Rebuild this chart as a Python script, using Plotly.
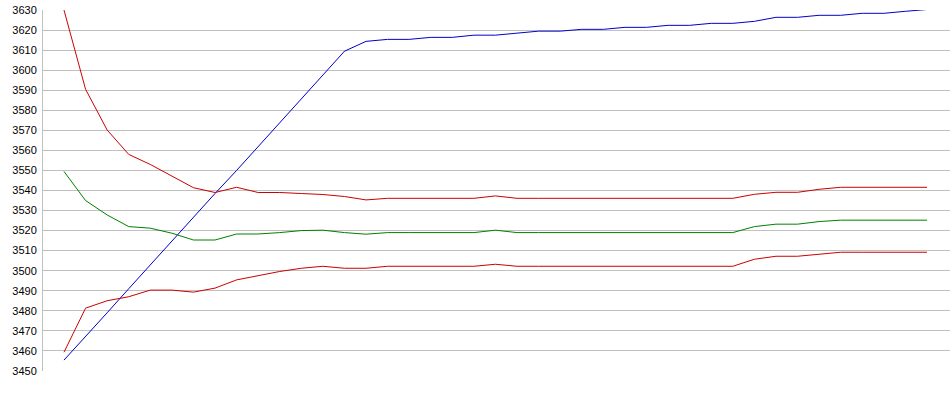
import plotly.graph_objects as go

# x positions (sample index)
x_index = list(range(41))

blue_values = [3455.4, 3467, 3479, 3491, 3503, 3515, 3527, 3538.5, 3550, 3562,
               3574, 3586, 3598, 3609.5, 3614.4, 3615.4, 3615.4, 3616.4, 3616.4, 3617.5,
               3617.5, 3618.5, 3619.5, 3619.5, 3620.4, 3620.4, 3621.4, 3621.4, 3622.4, 3622.4,
               3623.4, 3623.4, 3624.4, 3626.4, 3626.4, 3627.4, 3627.4, 3628.4, 3628.4, 3629.4,
               3630.3]

red_upper_values = [3630, 3590.5, 3570.2, 3558, 3553, 3547, 3541.4, 3539, 3541.6, 3539,
                    3539, 3538.5, 3538, 3537, 3535.3, 3536.1, 3536.1, 3536.1, 3536.1, 3536.1,
                    3537.3, 3536.1, 3536.1, 3536.1, 3536.1, 3536.1, 3536.1, 3536.1, 3536.1, 3536.1,
                    3536.1, 3536.1, 3538.1, 3539.1, 3539.1, 3540.6, 3541.6, 3541.6, 3541.6, 3541.6,
                    3541.6]

green_values = [3549.5, 3535, 3527.8, 3522, 3521.2, 3518.7, 3515.3, 3515.3, 3518.3, 3518.3,
                3519, 3520, 3520.2, 3519, 3518.2, 3519, 3519, 3519, 3519, 3519,
                3520.2, 3519, 3519, 3519, 3519, 3519, 3519, 3519, 3519, 3519,
                3519, 3519, 3522, 3523.2, 3523.2, 3524.5, 3525.2, 3525.2, 3525.2, 3525.2,
                3525.2]

red_lower_values = [3459.3, 3481.3, 3485, 3487, 3490.3, 3490.3, 3489.3, 3491.3, 3495.4, 3497.4,
                    3499.6, 3501.2, 3502.2, 3501.2, 3501.2, 3502.2, 3502.2, 3502.2, 3502.2, 3502.2,
                    3503.2, 3502.2, 3502.2, 3502.2, 3502.2, 3502.2, 3502.2, 3502.2, 3502.2, 3502.2,
                    3502.2, 3502.2, 3505.7, 3507.2, 3507.2, 3508.2, 3509.2, 3509.2, 3509.2, 3509.2,
                    3509.2]

y_ticks = list(range(3450, 3631, 10))

fig = go.Figure()
series = [
    (blue_values, "#0000CC"),
    (green_values, "#008000"),
    (red_lower_values, "#CC0000"),
    (red_upper_values, "#CC0000"),
]
for vals, col in series:
    fig.add_trace(go.Scatter(x=x_index, y=vals, mode="lines",
                             line=dict(color=col, width=1), hoverinfo="skip",
                             showlegend=False, cliponaxis=False))

fig.update_layout(
    width=950, height=395,
    margin=dict(l=43, r=0, t=10, b=24, autoexpand=False),
    paper_bgcolor="white", plot_bgcolor="white",
    font=dict(family="Liberation Sans, Arial, sans-serif", size=11, color="#000000"),
    xaxis=dict(range=[-0.973, 41.066], showgrid=False, zeroline=False,
               showticklabels=False, showline=False, fixedrange=True,
               automargin=False),
    yaxis=dict(range=[3449.95, 3630.05], tickvals=y_ticks,
               ticktext=[str(v) for v in y_ticks],
               showgrid=True, gridcolor="#C0C0C0", gridwidth=1,
               zeroline=False, showline=True, linecolor="#C0C0C0", linewidth=1,
               ticks="", ticklabelstandoff=3, fixedrange=True, automargin=False),
)

fig.write_html("out.html", config={"displayModeBar": False},
               post_script="document.body.style.margin='0';document.body.style.overflow='hidden';")
